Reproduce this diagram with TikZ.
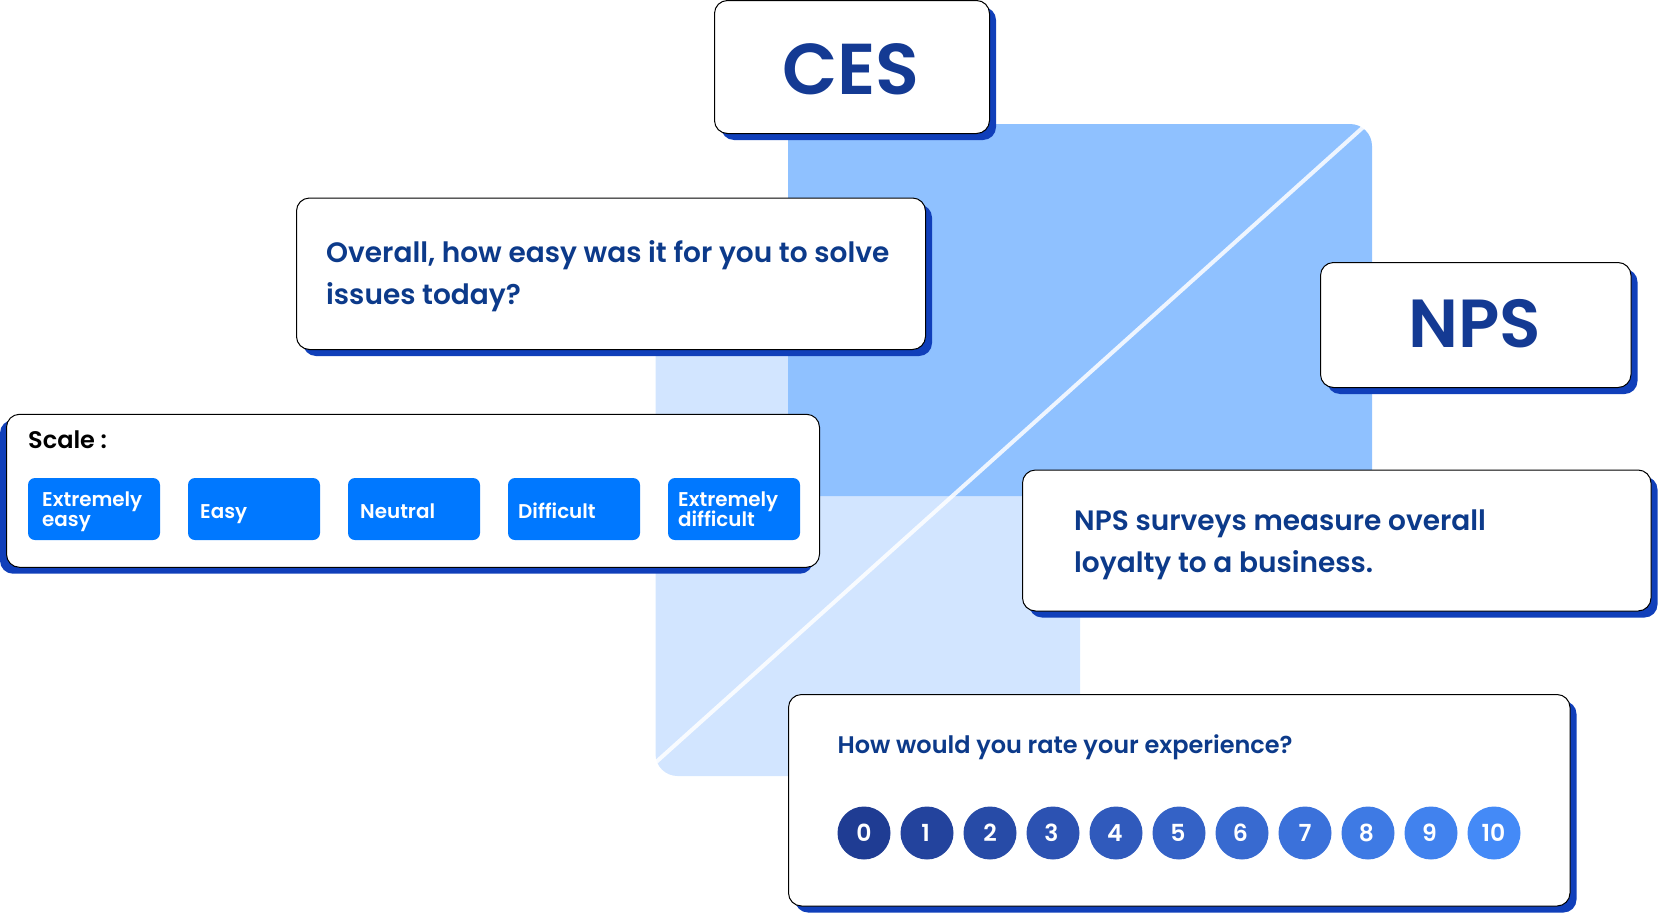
\documentclass[tikz,border=0pt]{standalone}
\usepackage{fontspec}
\setmainfont{Poppins}
\newfontfamily\fmed{Poppins Medium}
\newfontfamily\fsemi{Poppins SemiBold}
\definecolor{bigblue}{HTML}{8FC1FF}
\definecolor{lightblue}{HTML}{D2E5FF}
\definecolor{shadowblue}{HTML}{103FBA}
\definecolor{inkblue}{HTML}{143A93}
\definecolor{bodyblue}{HTML}{0C3A8A}
\definecolor{btnblue}{HTML}{0078FF}
\newcommand{\fsz}[1]{\fontsize{#1}{#1}\selectfont}
\newcommand{\card}[6]{% name, x1,y1,x2,y2, shadow dx
  \fill[shadowblue,rounded corners=13] (#2+#6,#3+6.5) rectangle (#4+#6,#5+6.5);
  \node[cardbox,minimum width=#4-#2,minimum height=#5-#3] (#1) at ({(#2+#4)/2},{(#3+#5)/2}) {};
}
\tikzset{
  cardbox/.style={draw=black,fill=white,line width=1pt,rounded corners=13,inner sep=0pt,outer sep=0pt},
  btn/.style={fill=btnblue,rounded corners=7,inner sep=0pt,outer sep=0pt,minimum width=132,minimum height=62},
  btntext/.style={text=white,anchor=base west,inner sep=0pt,font=\fsemi\fsz{19.9},align=left},
  num/.style={circle,minimum size=53,inner sep=0pt,text=white,font=\fsemi\fsz{23.5}},
  bodytext/.style={text=bodyblue,anchor=base west,inner sep=0pt,font=\fsemi\fsz{28}},
  bigtext/.style={text=inkblue,inner sep=0pt,font=\fsemi\fsz{72}},
}
\begin{document}
\begin{tikzpicture}[x=1pt,y=-1pt]
\useasboundingbox (0,0) rectangle (1658,913);
% background panels
\fill[lightblue] (655.5,340) -- (1080,340) -- (1080,776) [rounded corners=22] -- (655.5,776) [sharp corners] -- cycle;
\fill[bigblue] (788,124) [rounded corners=22] -- (1372,124) [sharp corners] -- (1372,496) -- (788,496) -- cycle;
\draw[white,opacity=.85,line width=4pt] (1369.5,121.5) -- (655,763);
% cards
\card{ces}{714.5}{0.5}{989.5}{133.5}{6.5}
\card{question}{296.5}{198}{925.5}{349.5}{6.5}
\fill[shadowblue,rounded corners=13] (0,420) rectangle (813,573.7);
\node[cardbox,minimum width=813,minimum height=153] (scale) at (413,490.8) {};
\card{nps}{1320.5}{262.5}{1631}{387.5}{6.5}
\card{npsq}{1022.5}{470}{1651}{611}{6.5}
\card{rate}{788.5}{694.5}{1570}{906}{6.5}
% headings
\node[bigtext] (cestxt) at (851,69) {CES};
\node[bigtext,font=\fsemi\fsz{68}] (npstxt) at (1475,323.5) {NPS};
% text
\node[bodytext] (q1) at (326,262) {Overall, how easy was it for you to solve};
\node[bodytext] (q2) at (326,304) {issues today?};
\node[bodytext] (n1) at (1074,530) {NPS surveys measure overall};
\node[bodytext] (n2) at (1074,572) {loyalty to a business.};
\node[bodytext,font=\fsemi\fsz{24}] (r1) at (837.5,753) {How would you rate your experience?};
\node[anchor=base west,inner sep=0pt,text=black,font=\fsemi\fsz{24}] (sc) at (28,448) {Scale :};
% buttons
\node[btn] (b1) at (94,509) {};
\node[btn] (b2) at (254,509) {};
\node[btn] (b3) at (414,509) {};
\node[btn] (b4) at (574,509) {};
\node[btn] (b5) at (734,509) {};
\node[btntext] (t1a) at (42,506) {Extremely};
\node[btntext] (t1b) at (42,526) {easy};
\node[btntext] (t2) at (200,518) {Easy};
\node[btntext] (t3) at (360,518) {Neutral};
\node[btntext] (t4) at (518,518) {Difficult};
\node[btntext] (t5a) at (678,506) {Extremely};
\node[btntext] (t5b) at (678,526) {difficult};
% rating circles
\node[num,fill={rgb,255:red,31;green,60;blue,147}] (c0) at (864,833) {0};
\node[num,fill={rgb,255:red,35;green,67;blue,157}] (c1) at (927,833) {\hspace{-3pt}1};
\node[num,fill={rgb,255:red,39;green,75;blue,167}] (c2) at (990,833) {2};
\node[num,fill={rgb,255:red,44;green,82;blue,178}] (c3) at (1053,833) {\hspace{-3pt}3};
\node[num,fill={rgb,255:red,48;green,90;blue,188}] (c4) at (1116,833) {\hspace{-2pt}4};
\node[num,fill={rgb,255:red,52;green,98;blue,198}] (c5) at (1179,833) {\hspace{-2pt}5};
\node[num,fill={rgb,255:red,56;green,106;blue,208}] (c6) at (1242,833) {\hspace{-3pt}6};
\node[num,fill={rgb,255:red,59;green,113;blue,218}] (c7) at (1305,833) {7};
\node[num,fill={rgb,255:red,62;green,122;blue,228}] (c8) at (1368,833) {\hspace{-3pt}8};
\node[num,fill={rgb,255:red,65;green,130;blue,238}] (c9) at (1431,833) {\hspace{-3pt}9};
\node[num,fill={rgb,255:red,68;green,138;blue,247}] (c10) at (1494,833) {\hspace{-1pt}10};
\end{tikzpicture}
\end{document}
